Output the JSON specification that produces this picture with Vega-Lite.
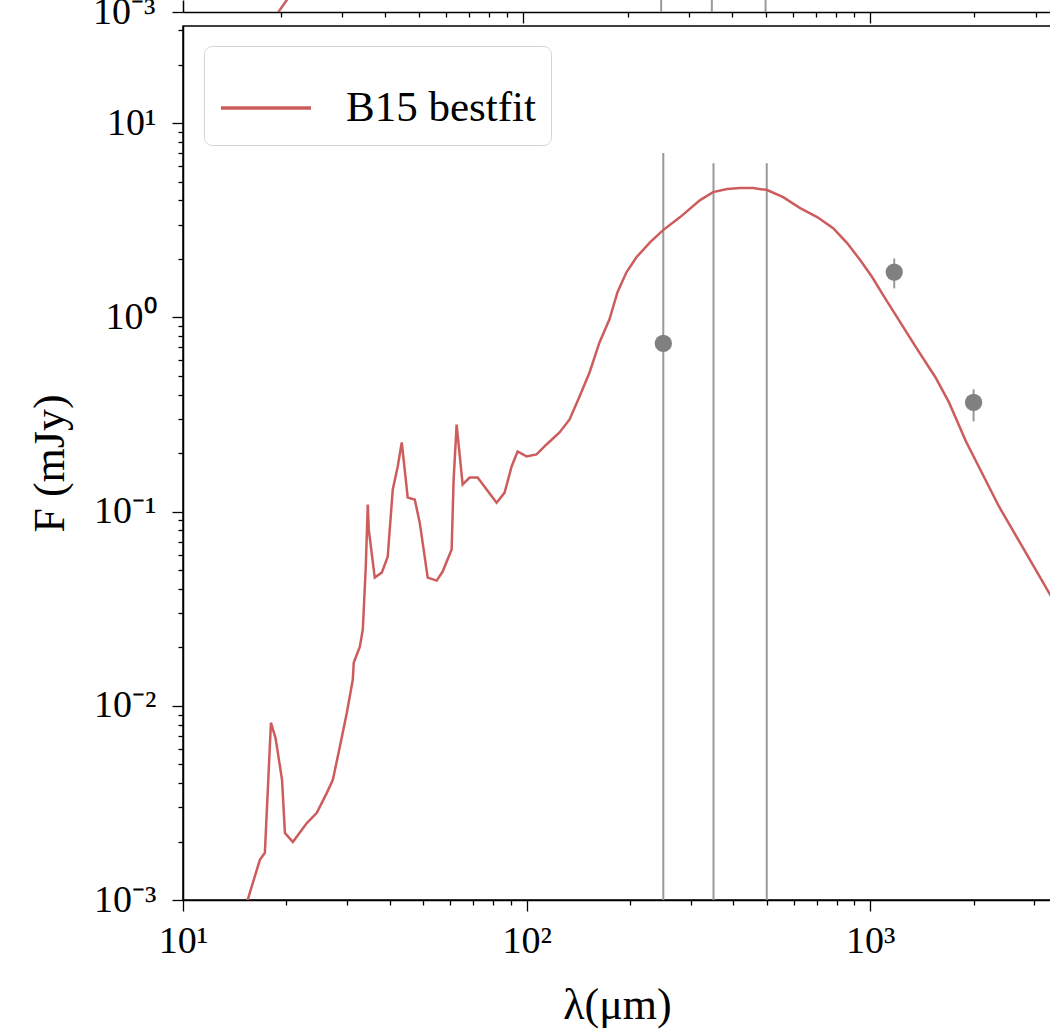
{
  "$schema": "https://vega.github.io/schema/vega-lite/v6.json",
  "autosize": "none",
  "padding": {"left": 183, "top": 0, "right": 867, "bottom": 1035},
  "background": "white",
  "spacing": 14,
  "bounds": "flush",
  "config": {
    "font": "Liberation Serif",
    "view": {"stroke": "black", "strokeWidth": 1.5},
    "axis": {
      "grid": false,
      "domainColor": "black",
      "domainWidth": 1.5,
      "tickColor": "black",
      "tickWidth": 1.3,
      "labelFont": "Liberation Serif",
      "labelFontSize": 38,
      "labelColor": "black",
      "titleFont": "Liberation Serif",
      "titleFontSize": 44,
      "titleFontWeight": "normal",
      "titleColor": "black",
      "labelOverlap": false,
      "labelFlush": false
    }
  },
  "resolve": {"scale": {"color": "independent"}, "legend": {"color": "independent"}},
  "datasets": {
    "sed": [
      {"lam": 15.2, "F": 0.00092},
      {"lam": 15.45, "F": 0.00101},
      {"lam": 16.74, "F": 0.00161},
      {"lam": 17.31, "F": 0.00175},
      {"lam": 18.03, "F": 0.00818},
      {"lam": 18.6, "F": 0.0068},
      {"lam": 19.42, "F": 0.00416},
      {"lam": 19.8, "F": 0.00221},
      {"lam": 20.88, "F": 0.00199},
      {"lam": 22.93, "F": 0.00249},
      {"lam": 24.52, "F": 0.00281},
      {"lam": 26.22, "F": 0.00356},
      {"lam": 27.3, "F": 0.00416},
      {"lam": 28.61, "F": 0.00615},
      {"lam": 29.98, "F": 0.00921},
      {"lam": 31.2, "F": 0.0136},
      {"lam": 31.41, "F": 0.0167},
      {"lam": 32.7, "F": 0.0201},
      {"lam": 33.37, "F": 0.0247},
      {"lam": 34.04, "F": 0.052},
      {"lam": 34.5, "F": 0.1087},
      {"lam": 34.73, "F": 0.0807},
      {"lam": 36.15, "F": 0.0457},
      {"lam": 37.89, "F": 0.0485},
      {"lam": 39.43, "F": 0.0586},
      {"lam": 40.78, "F": 0.1297},
      {"lam": 42.17, "F": 0.1706},
      {"lam": 43.32, "F": 0.227},
      {"lam": 45.09, "F": 0.118},
      {"lam": 47.26, "F": 0.1153},
      {"lam": 48.87, "F": 0.0877},
      {"lam": 51.55, "F": 0.0457},
      {"lam": 54.74, "F": 0.0441},
      {"lam": 56.98, "F": 0.0491},
      {"lam": 60.52, "F": 0.0637},
      {"lam": 61.33, "F": 0.1461},
      {"lam": 62.58, "F": 0.2805},
      {"lam": 65.15, "F": 0.1378},
      {"lam": 68.28, "F": 0.1496},
      {"lam": 72.04, "F": 0.1496},
      {"lam": 76.51, "F": 0.1297},
      {"lam": 81.8, "F": 0.1111},
      {"lam": 86.31, "F": 0.1252},
      {"lam": 90.45, "F": 0.1706},
      {"lam": 94.16, "F": 0.2038},
      {"lam": 100.0, "F": 0.1922},
      {"lam": 106.9, "F": 0.1968},
      {"lam": 114.3, "F": 0.2215},
      {"lam": 124.7, "F": 0.2553},
      {"lam": 133.4, "F": 0.2979},
      {"lam": 142.6, "F": 0.3914},
      {"lam": 152.5, "F": 0.5203},
      {"lam": 163.0, "F": 0.743},
      {"lam": 174.3, "F": 0.9765},
      {"lam": 183.9, "F": 1.346},
      {"lam": 195.3, "F": 1.706},
      {"lam": 208.8, "F": 2.038},
      {"lam": 229.0, "F": 2.44},
      {"lam": 249.7, "F": 2.813},
      {"lam": 279.9, "F": 3.282},
      {"lam": 320.0, "F": 4.014},
      {"lam": 349.1, "F": 4.414},
      {"lam": 383.4, "F": 4.574},
      {"lam": 418.3, "F": 4.628},
      {"lam": 456.4, "F": 4.628},
      {"lam": 501.3, "F": 4.52},
      {"lam": 558.1, "F": 4.16},
      {"lam": 625.6, "F": 3.651},
      {"lam": 701.1, "F": 3.282},
      {"lam": 780.3, "F": 2.88},
      {"lam": 857.1, "F": 2.411},
      {"lam": 935.2, "F": 1.971},
      {"lam": 1013, "F": 1.612},
      {"lam": 1091, "F": 1.302},
      {"lam": 1360, "F": 0.7},
      {"lam": 1550, "F": 0.49},
      {"lam": 1696, "F": 0.3648},
      {"lam": 1901, "F": 0.2296},
      {"lam": 2371, "F": 0.1062},
      {"lam": 3314, "F": 0.0382},
      {"lam": 4052, "F": 0.0206}
    ],
    "phot": [
      {"lam": 250, "F": 0.734, "lo": 0.0001, "hi": 7.01},
      {"lam": 350, "F": null, "lo": 0.0001, "hi": 6.22},
      {"lam": 500, "F": null, "lo": 0.0001, "hi": 6.22},
      {"lam": 1175, "F": 1.71, "lo": 1.41, "hi": 2.01},
      {"lam": 2000, "F": 0.365, "lo": 0.291, "hi": 0.426}
    ],
    "top_sed": [
      {"lam": 19.5, "F": 0.000971},
      {"lam": 21.13, "F": 0.001194}
    ]
  },
  "vconcat": [
    {
      "width": 868,
      "height": 12,
      "view": {"stroke": null},
      "layer": [
        {
          "data": {"name": "phot"},
          "transform": [{"filter": "datum.lam < 600"}],
          "mark": {"type": "rule", "color": "#999999", "strokeWidth": 2, "clip": true},
          "encoding": {
            "x": {
              "field": "lam", "type": "quantitative",
              "scale": {"type": "log", "domain": [10.47, 3323], "nice": false},
              "axis": {
                "orient": "bottom", "title": null, "labels": false,
                "values": [20, 30, 40, 50, 60, 70, 80, 90, 100, 200, 300, 400, 500, 600, 700, 800, 900, 1000, 2000, 3000],
                "tickSize": {"condition": {"test": "indexof([10,100,1000], datum.value) >= 0", "value": 11}, "value": 5}
              }
            },
            "y": {
              "field": "lo", "type": "quantitative",
              "scale": {"type": "log", "domain": [0.001, 0.001153], "nice": false},
              "axis": {
                "title": null, "values": [0.001],
                "labelExpr": "'10⁻³'",
                "tickSize": 11, "labelPadding": 17
              }
            },
            "y2": {"field": "hi"}
          }
        },
        {
          "data": {"name": "top_sed"},
          "mark": {"type": "line", "color": "#cd5c5c", "strokeWidth": 2.5, "clip": true},
          "encoding": {
            "x": {"field": "lam", "type": "quantitative"},
            "y": {"field": "F", "type": "quantitative"}
          }
        }
      ]
    },
    {
      "width": 868,
      "height": 874,
      "layer": [
        {
          "data": {"name": "phot"},
          "mark": {"type": "rule", "color": "#999999", "strokeWidth": 2, "clip": true},
          "encoding": {
            "x": {
              "field": "lam", "type": "quantitative",
              "scale": {"type": "log", "domain": [10, 3360], "nice": false},
              "axis": {
                "title": "λ(μm)",
                "values": [10, 20, 30, 40, 50, 60, 70, 80, 90, 100, 200, 300, 400, 500, 600, 700, 800, 900, 1000, 2000, 3000],
                "labelExpr": "datum.value == 10 ? '10¹' : datum.value == 100 ? '10²' : datum.value == 1000 ? '10³' : ''",
                "tickSize": {"condition": {"test": "indexof([10,100,1000], datum.value) >= 0", "value": 11}, "value": 5},
                "labelPadding": 11,
                "titleY": 118,
                "titleBaseline": "alphabetic"
              }
            },
            "y": {
              "field": "lo", "type": "quantitative",
              "scale": {"type": "log", "domain": [0.001, 31.62], "nice": false},
              "axis": {
                "title": "F (mJy)",
                "values": [0.001, 0.002, 0.003, 0.004, 0.005, 0.006, 0.007, 0.008, 0.009, 0.01, 0.02, 0.03, 0.04, 0.05, 0.06, 0.07, 0.08, 0.09, 0.1, 0.2, 0.3, 0.4, 0.5, 0.6, 0.7, 0.8, 0.9, 1, 2, 3, 4, 5, 6, 7, 8, 9, 10, 20, 30],
                "labelExpr": "datum.value == 0.001 ? '10⁻³' : datum.value == 0.01 ? '10⁻²' : datum.value == 0.1 ? '10⁻¹' : datum.value == 1 ? '10⁰' : datum.value == 10 ? '10¹' : ''",
                "tickSize": {"condition": {"test": "indexof([0.001,0.01,0.1,1,10], datum.value) >= 0", "value": 11}, "value": 5},
                "labelPadding": 16,
                "titleX": -120,
                "titleY": 437,
                "titleAngle": 270,
                "titleAlign": "center",
                "titleBaseline": "alphabetic"
              }
            },
            "y2": {"field": "hi"}
          }
        },
        {
          "data": {"name": "sed"},
          "mark": {"type": "line", "strokeWidth": 2.5, "clip": true},
          "encoding": {
            "x": {"field": "lam", "type": "quantitative"},
            "y": {"field": "F", "type": "quantitative"},
            "color": {
              "datum": "B15 bestfit", "type": "nominal",
              "scale": {"range": ["#cd5c5c"]},
              "legend": {
                "orient": "none", "legendX": 21, "legendY": 20,
                "title": null,
                "symbolType": "stroke", "symbolSize": 8100, "symbolStrokeWidth": 3.5,
                "labelFont": "Liberation Serif", "labelFontSize": 43, "labelColor": "black",
                "labelLimit": 0,
                "labelOffset": 33, "padding": 15,
                "strokeColor": "#d5d5d5", "fillColor": "white", "cornerRadius": 8
              }
            }
          }
        },
        {
          "data": {"name": "phot"},
          "transform": [{"filter": "isValid(datum.F)"}],
          "mark": {"type": "circle", "size": 300, "color": "#808080", "opacity": 1, "clip": true},
          "encoding": {
            "x": {"field": "lam", "type": "quantitative"},
            "y": {"field": "F", "type": "quantitative"}
          }
        }
      ]
    }
  ]
}
